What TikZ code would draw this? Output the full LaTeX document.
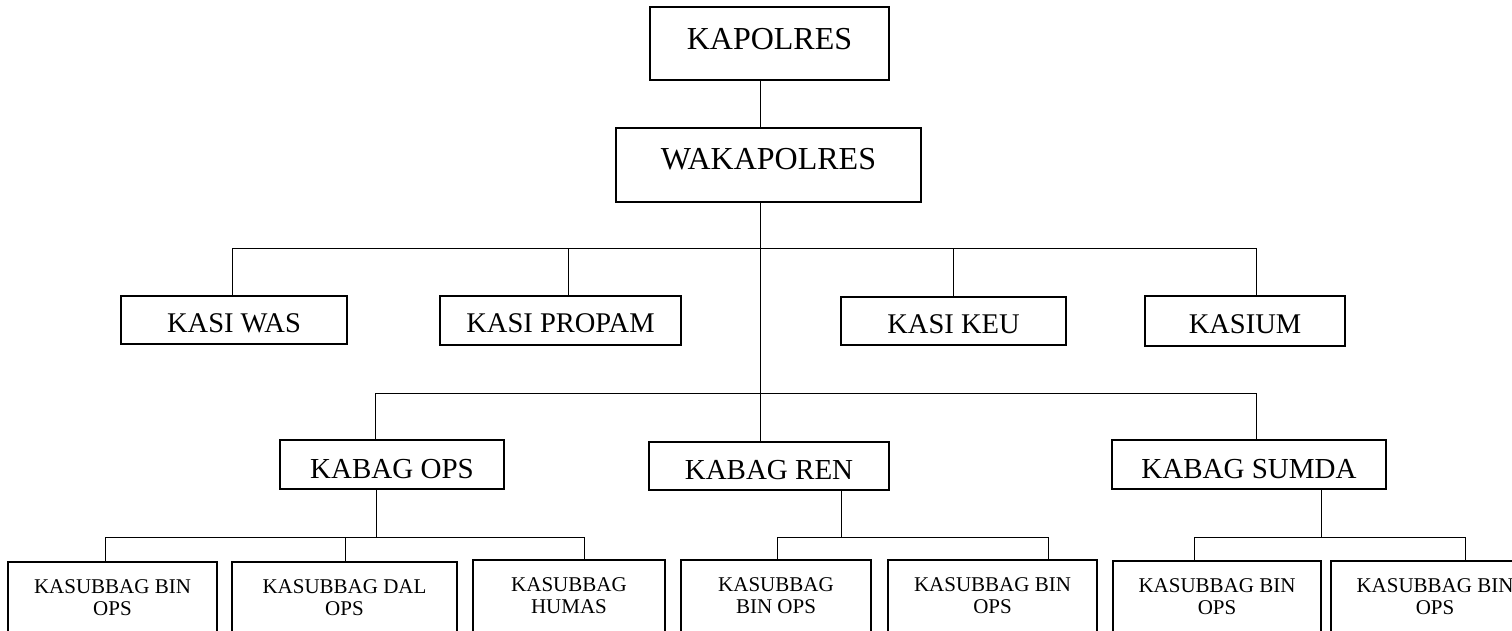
\documentclass[tikz,border=0pt]{standalone}
\usepackage{fontspec}
\setmainfont{Liberation Serif}
\newcommand{\deepstrut}{\rule[-30pt]{0pt}{30pt}}
\begin{document}
\begin{tikzpicture}[x=1pt,y=-1pt,
  box/.style={draw, line width=1.9pt, inner sep=0pt, align=center},
  subbox/.style={draw, line width=1.9pt, inner xsep=0pt, inner ysep=18pt, anchor=north, align=center,
                 font=\fontsize{21}{22}\selectfont},
  conn/.style={line width=1pt},
  ftop/.style={font=\fontsize{32}{34}\selectfont, text height=21pt},
  fkasi/.style={font=\fontsize{28.5}{30}\selectfont, text height=24.5pt, text depth=0pt},
  fkabag/.style={font=\fontsize{29}{31}\selectfont, text height=27pt, text depth=0pt}]
\useasboundingbox (0,0) rectangle (1512,631);
\fill[white] (0,0) rectangle (1512,631);
\clip (0,0) rectangle (1512,631);

% top
\node[box, ftop, text depth=8pt, minimum width=239pt, minimum height=73pt] (kap) at (769.5,43.5) {KAPOLRES};
\node[box, ftop, text depth=12pt, minimum width=305pt, minimum height=74pt] (waka) at (768.5,165) {WAKAPOLRES};

% KASI row
\node[box, fkasi, minimum width=226pt, minimum height=48pt] (was) at (234,320) {KASI WAS};
\node[box, fkasi, minimum width=241pt, minimum height=49pt] (propam) at (560.5,320.5) {KASI PROPAM};
\node[box, fkasi, minimum width=225pt, minimum height=48pt] (keu) at (953.5,321) {KASI KEU};
\node[box, fkasi, minimum width=200pt, minimum height=50pt] (kasium) at (1245,321) {KASIUM};

% KABAG row
\node[box, fkabag, minimum width=224pt, minimum height=49pt] (ops) at (392,464.5) {KABAG OPS};
\node[box, fkabag, minimum width=240pt, minimum height=48pt] (ren) at (769,466) {KABAG REN};
\node[box, fkabag, minimum width=274pt, minimum height=49pt] (sumda) at (1249,464.5) {KABAG SUMDA};

% KASUBBAG row
\node[subbox, minimum width=209pt] (b1) at (112.5,561) {KASUBBAG BIN\\OPS\deepstrut};
\node[subbox, minimum width=225pt] (b2) at (344.5,561) {KASUBBAG DAL\\OPS\deepstrut};
\node[subbox, minimum width=192pt] (b3) at (569,559) {KASUBBAG\\HUMAS\deepstrut};
\node[subbox, minimum width=190pt] (b4) at (776,559) {KASUBBAG\\BIN OPS\deepstrut};
\node[subbox, minimum width=209pt] (b5) at (992.5,559) {KASUBBAG BIN\\OPS\deepstrut};
\node[subbox, minimum width=208pt] (b6) at (1217,560) {KASUBBAG BIN\\OPS\deepstrut};
\node[subbox, minimum width=208pt] (b7) at (1435,560) {KASUBBAG BIN\\OPS\deepstrut};

% trunk
\coordinate (t0) at (760,0);
\draw[conn] (kap.south -| t0) -- (waka.north -| t0);
\draw[conn] (waka.south -| t0) -- (ren.north -| t0);

% first bus
\coordinate (h1a) at (232,248);
\coordinate (h1b) at (568,248);
\coordinate (h1c) at (953,248);
\coordinate (h1d) at (1256,248);
\draw[conn] (h1a) -- (h1d);
\draw[conn] (h1a) -- (was.north -| h1a);
\draw[conn] (h1b) -- (propam.north -| h1b);
\draw[conn] (h1c) -- (keu.north -| h1c);
\draw[conn] (h1d) -- (kasium.north -| h1d);

% second bus
\coordinate (h2a) at (375.5,393);
\coordinate (h2d) at (1256,393);
\draw[conn] (h2a) -- (h2d);
\draw[conn] (h2a) -- (ops.north -| h2a);
\draw[conn] (h2d) -- (sumda.north -| h2d);

% OPS group
\coordinate (oa) at (376.5,537);
\coordinate (o1) at (105,537);
\coordinate (o2) at (345,537);
\coordinate (o3) at (584,537);
\draw[conn] (ops.south -| oa) -- (oa);
\draw[conn] (o1) -- (o3);
\draw[conn] (o1) -- (b1.north -| o1);
\draw[conn] (o2) -- (b2.north -| o2);
\draw[conn] (o3) -- (b3.north -| o3);

% REN group
\coordinate (ra) at (841,537);
\coordinate (r1) at (777,537);
\coordinate (r2) at (1048,537);
\draw[conn] (ren.south -| ra) -- (ra);
\draw[conn] (r1) -- (r2);
\draw[conn] (r1) -- (b4.north -| r1);
\draw[conn] (r2) -- (b5.north -| r2);

% SUMDA group
\coordinate (sa) at (1321,537);
\coordinate (s1) at (1194,537);
\coordinate (s2) at (1465,537);
\draw[conn] (sumda.south -| sa) -- (sa);
\draw[conn] (s1) -- (s2);
\draw[conn] (s1) -- (b6.north -| s1);
\draw[conn] (s2) -- (b7.north -| s2);
\end{tikzpicture}
\end{document}
